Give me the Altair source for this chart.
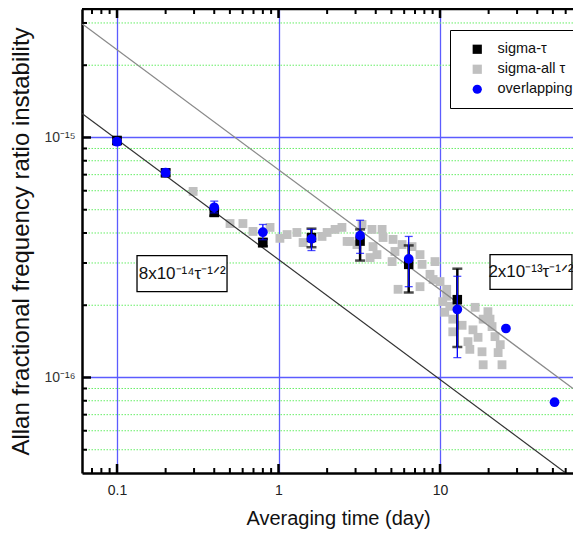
import altair as alt
import pandas as pd

# ---------------- data ----------------
# sigma-tau (black squares, with error bars)
tau_bin = [0.1, 0.2, 0.4, 0.8, 1.6, 3.2, 6.4, 12.8]
sig_tau = [9.72e-16, 7.13e-16, 4.87e-16, 3.65e-16, 3.83e-16, 3.70e-16, 2.96e-16, 2.11e-16]
sig_tau_lo = [9.40e-16, 6.90e-16, 4.72e-16, 3.52e-16, 3.49e-16, 3.07e-16, 2.26e-16, 1.34e-16]
sig_tau_hi = [1.00e-15, 7.35e-16, 5.02e-16, 3.78e-16, 4.17e-16, 4.14e-16, 3.55e-16, 2.84e-16]

# overlapping (blue circles)
tau_ov = [0.1, 0.2, 0.4, 0.8, 1.6, 3.2, 6.4, 12.8, 25.6, 51.2]
sig_ov = [9.60e-16, 7.13e-16, 5.12e-16, 4.03e-16, 3.78e-16, 3.90e-16, 3.12e-16, 1.92e-16, 1.60e-16, 7.89e-17]
ov_err_tau = [0.1, 0.2, 0.4, 0.8, 1.6, 3.2, 6.4, 12.8]
ov_lo = [9.30e-16, 6.90e-16, 4.85e-16, 3.75e-16, 3.38e-16, 3.29e-16, 2.39e-16, 1.21e-16]
ov_hi = [9.90e-16, 7.40e-16, 5.43e-16, 4.34e-16, 4.14e-16, 4.52e-16, 3.87e-16, 2.64e-16]

# sigma-all tau (grey squares)
tau_all = [0.296, 0.501, 0.602, 0.695, 0.886, 1.02, 1.13, 1.30, 1.42, 1.86, 2.00, 2.24,
           2.47, 2.66, 2.77, 3.06, 3.29, 3.69, 3.79, 3.85, 4.07, 4.38, 4.44, 5.05, 5.12,
           5.26, 5.50, 5.82, 6.71, 7.52, 7.52, 7.74, 8.67, 9.06, 9.31, 10.0, 10.4, 10.7,
           11.0, 11.0, 11.5, 12.0, 12.0, 13.7, 14.9, 15.3, 16.0, 16.5, 17.2, 18.2, 18.5,
           18.5, 19.8, 20.4, 21.0, 21.9, 22.9, 23.6, 24.2]
sig_all = [5.96e-16, 4.38e-16, 4.38e-16, 4.06e-16, 4.22e-16, 3.80e-16, 3.94e-16, 4.02e-16,
           3.65e-16, 3.87e-16, 4.02e-16, 4.14e-16, 4.22e-16, 3.69e-16, 3.69e-16, 3.58e-16,
           4.34e-16, 3.16e-16, 4.14e-16, 3.51e-16, 3.25e-16, 4.14e-16, 3.83e-16, 3.04e-16,
           3.76e-16, 3.35e-16, 2.33e-16, 3.58e-16, 3.51e-16, 3.25e-16, 2.39e-16, 2.96e-16,
           2.69e-16, 2.56e-16, 3.04e-16, 2.51e-16, 2.07e-16, 1.87e-16, 2.18e-16, 2.33e-16,
           1.98e-16, 1.75e-16, 1.55e-16, 1.65e-16, 1.41e-16, 1.31e-16, 1.58e-16, 1.96e-16,
           1.47e-16, 1.28e-16, 1.75e-16, 1.13e-16, 1.88e-16, 1.75e-16, 1.63e-16, 1.48e-16,
           1.27e-16, 1.37e-16, 1.13e-16]

# tau^-1/2 guide lines (end points)
black_line_tau = [0.0607, 63.8]
black_line_sig = [1.26e-15, 3.88e-17]
grey_line_tau = [0.0607, 66.6]
grey_line_sig = [2.98e-15, 9.0e-17]

# annotation boxes
ann_text = ["8x10\u207b\u00b9\u2074\u03c4\u207b\u00b9\u141f\u00b2", "2x10\u207b\u00b9\u00b3\u03c4\u207b\u00b9\u141f\u00b2"]
ann_tau = [0.253, 36.6]
ann_sig = [2.71e-16, 2.75e-16]
ann_tau1 = [0.133, 20.4]
ann_tau2 = [0.480, 65.6]
ann_sig1 = [3.22e-16, 3.25e-16]
ann_sig2 = [2.28e-16, 2.33e-16]

# grid / ticks
x_major = [0.1, 1, 10]
x_minor = [0.07, 0.08, 0.09, 0.2, 0.3, 0.4, 0.5, 0.6, 0.7, 0.8, 0.9,
           2, 3, 4, 5, 6, 7, 8, 9, 20, 30, 40, 50, 60]
y_major = [1e-15, 1e-16]
y_minor = [3e-15, 2e-15, 9e-16, 8e-16, 7e-16, 6e-16, 5e-16, 4e-16, 3e-16, 2e-16,
           9e-17, 8e-17, 7e-17, 6e-17, 5e-17]

series_names = ["sigma-\u03c4", "sigma-all \u03c4", "overlapping"]
series_colors = ["#000000", "#c0c0c0", "#0000ff"]
series_shapes = ["square", "square", "circle"]

XDOM = [0.0607, 66.6]
YDOM = [4.0e-17, 3.43e-15]
W, H = 491, 464
FONT = "Liberation Sans"

# ---------------- build ----------------
xs = alt.Scale(type="log", domain=XDOM, nice=False)
ys = alt.Scale(type="log", domain=YDOM, nice=False)

AX = alt.Axis(values=x_major,
              labelExpr="datum.value < 0.5 ? '0.1' : (datum.value < 5 ? '1' : '10')",
              grid=True, gridColor="#5c5cff", gridWidth=1.3, gridOpacity=1,
              ticks=False, domain=True, domainColor="black", domainWidth=2.5,
              labelFontSize=14, labelColor="#222222", labelPadding=10, labelFont=FONT,
              title="Averaging time (day)", titleFontSize=20, titleFontWeight="normal",
              titleFont=FONT, titleColor="#111111", titlePadding=11, titleX=256)
AY = alt.Axis(values=y_major,
              labelExpr="datum.value > 5e-16 ? '10\u207b\u00b9\u2075' : '10\u207b\u00b9\u2076'",
              grid=True, gridColor="#5c5cff", gridWidth=1.3, gridOpacity=1,
              ticks=False, domain=True, domainColor="black", domainWidth=2.5,
              labelFontSize=14, labelColor="#333333", labelPadding=7, labelFont=FONT,
              title="Allan fractional frequency ratio instability",
              titleFontSize=24, titleFontWeight="normal", titleFont=FONT, titleColor="#111111",
              titlePadding=10)

color = alt.Color("series:N", scale=alt.Scale(domain=series_names, range=series_colors),
                  legend=alt.Legend(title=None))
shape = alt.Shape("series:N", scale=alt.Scale(domain=series_names, range=series_shapes),
                  legend=alt.Legend(title=None))


def X(field="x"):
    return alt.X(f"{field}:Q", scale=xs, axis=AX, title="Averaging time (day)")


def Y(field="y"):
    return alt.Y(f"{field}:Q", scale=ys, axis=AY, title="Allan fractional frequency ratio instability")


ymin_df = pd.DataFrame({"y": y_minor})
ymaj_df = pd.DataFrame({"y": y_major})
xmaj_df = pd.DataFrame({"x": x_major})
xmin_df = pd.DataFrame({"x": x_minor})

grid_minor = alt.Chart(ymin_df).mark_rule(color="#66ee66", strokeWidth=1, strokeDash=[1.5, 1.5]).encode(y=Y())

all_df = pd.DataFrame({"x": tau_all, "y": sig_all, "series": series_names[1]})
grey_pts = alt.Chart(all_df).mark_point(filled=True, opacity=1, size=78).encode(
    x=X(), y=Y(), color=color, shape=shape)

bl_df = pd.DataFrame({"x": black_line_tau, "y": black_line_sig})
gl_df = pd.DataFrame({"x": grey_line_tau, "y": grey_line_sig})
black_line = alt.Chart(bl_df).mark_line(color="#333333", strokeWidth=1.2, clip=True).encode(x=X(), y=Y())
grey_line = alt.Chart(gl_df).mark_line(color="#8a8a8a", strokeWidth=1.3, clip=True).encode(x=X(), y=Y())

st_df = pd.DataFrame({"x": tau_bin, "y": sig_tau, "lo": sig_tau_lo, "hi": sig_tau_hi,
                      "series": series_names[0]})
st_err = alt.Chart(st_df).mark_rule(color="black", strokeWidth=2.5).encode(x=X(), y=Y("lo"), y2="hi:Q")
st_cap_lo = alt.Chart(st_df).mark_tick(orient="horizontal", color="black", size=10, thickness=2.5).encode(x=X(), y=Y("lo"))
st_cap_hi = alt.Chart(st_df).mark_tick(orient="horizontal", color="black", size=10, thickness=2.5).encode(x=X(), y=Y("hi"))
st_pts = alt.Chart(st_df).mark_point(filled=True, opacity=1, size=90).encode(
    x=X(), y=Y(), color=color, shape=shape)

ov_df = pd.DataFrame({"x": tau_ov, "y": sig_ov, "series": series_names[2]})
ove_df = pd.DataFrame({"x": ov_err_tau, "lo": ov_lo, "hi": ov_hi})
ov_err = alt.Chart(ove_df).mark_rule(color="#0000ff", strokeWidth=1.3).encode(x=X(), y=Y("lo"), y2="hi:Q")
ov_cap_lo = alt.Chart(ove_df).mark_tick(orient="horizontal", color="#0000ff", size=8, thickness=1.3).encode(x=X(), y=Y("lo"))
ov_cap_hi = alt.Chart(ove_df).mark_tick(orient="horizontal", color="#0000ff", size=8, thickness=1.3).encode(x=X(), y=Y("hi"))
ov_pts = alt.Chart(ov_df).mark_point(filled=True, opacity=1, size=95).encode(
    x=X(), y=Y(), color=color, shape=shape)

ann_df = pd.DataFrame({"x": ann_tau, "y": ann_sig, "x1": ann_tau1, "x2": ann_tau2,
                       "y1": ann_sig1, "y2": ann_sig2, "t": ann_text})
ann_box = alt.Chart(ann_df).mark_rect(fill="white", stroke="black", strokeWidth=1.3).encode(
    x=X("x1"), x2="x2:Q", y=Y("y1"), y2="y2:Q")
ann_txt = alt.Chart(ann_df).mark_text(fontSize=17, font=FONT, color="#111111").encode(
    x=X(), y=Y(), text="t:N")

one = pd.DataFrame({"a": [0]})
top_line = alt.Chart(one).mark_rule(color="black", strokeWidth=2.5).encode(y=alt.value(0))

tick_b_min = alt.Chart(xmin_df).mark_rule(color="black", strokeWidth=2).encode(x=X(), y=alt.value(H), y2=alt.value(H - 5))
tick_b_maj = alt.Chart(xmaj_df).mark_rule(color="black", strokeWidth=2.5).encode(x=X(), y=alt.value(H), y2=alt.value(H - 9))
tick_t_min = alt.Chart(xmin_df).mark_rule(color="black", strokeWidth=2).encode(x=X(), y=alt.value(0), y2=alt.value(5))
tick_t_maj = alt.Chart(xmaj_df).mark_rule(color="black", strokeWidth=2.5).encode(x=X(), y=alt.value(0), y2=alt.value(9))
tick_l_min = alt.Chart(ymin_df).mark_rule(color="black", strokeWidth=2).encode(y=Y(), x=alt.value(0), x2=alt.value(5))
tick_l_maj = alt.Chart(ymaj_df).mark_rule(color="black", strokeWidth=2.5).encode(y=Y(), x=alt.value(0), x2=alt.value(9))

chart = alt.layer(
    grid_minor,
    grey_pts, black_line, grey_line,
    st_err, st_cap_lo, st_cap_hi, st_pts,
    ov_err, ov_cap_lo, ov_cap_hi, ov_pts,
    ann_box, ann_txt,
    top_line, tick_b_min, tick_b_maj, tick_t_min, tick_t_maj, tick_l_min, tick_l_maj,
).properties(
    width=W, height=H,
    autosize=alt.AutoSizeParams(type="none"),
    padding={"left": 74, "top": 1, "right": 0, "bottom": 62},
).configure_view(
    strokeWidth=0
).configure(
    font=FONT
).configure_legend(
    orient="none", legendX=368, legendY=21, padding=12,
    fillColor="white", strokeColor="black",
    labelFontSize=14.5, labelFont=FONT, labelColor="#111111",
    symbolSize=85, symbolStrokeWidth=0, rowPadding=5, labelOffset=13, symbolOffset=8,
)

chart.save("out.html", embed_options={"renderer": "svg", "actions": False})
